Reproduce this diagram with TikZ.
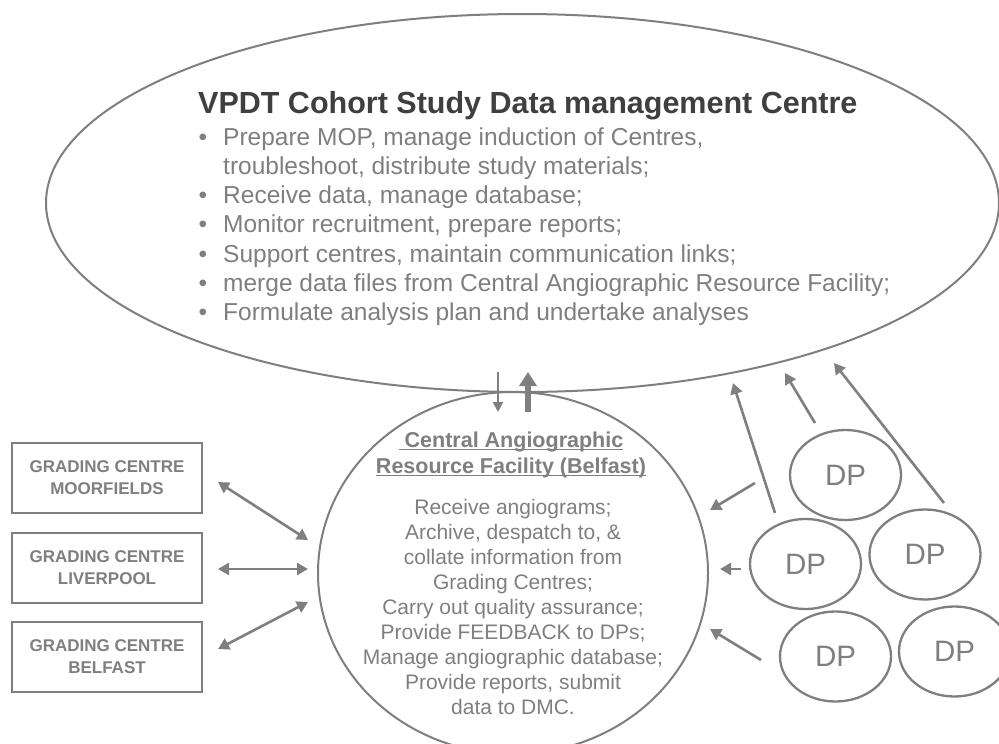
\documentclass[tikz,border=0pt]{standalone}
\usepackage{fontspec}
\setmainfont{Liberation Sans}
\usetikzlibrary{shapes.geometric,arrows.meta}
\definecolor{lg}{HTML}{7F7F7F}
\definecolor{tg}{HTML}{7F7F7F}
\definecolor{dg}{HTML}{3F3F3F}
\newcommand\myul[1]{\setbox0\hbox{#1}\rlap{\rule[-2.5pt]{\wd0}{1pt}}\box0}
\begin{document}
\begin{tikzpicture}[x=1pt,y=-1pt,
  ell/.style={draw=lg, line width=2pt, ellipse, inner sep=0pt, outer sep=0pt},
  gbox/.style={draw=lg, line width=2.2pt, minimum width=190pt, minimum height=70pt, inner sep=0pt, align=center, text=tg, font=\bfseries\fontsize{17}{22}\selectfont},
  dp/.style={ell, line width=2.3pt, minimum width=111pt, minimum height=90pt, text=tg, font=\fontsize{29.5}{30}\selectfont},
  arr/.style={draw=lg, line width=2.6pt, -{Triangle[length=11pt,width=12pt]}},
  darr/.style={draw=lg, line width=2.6pt, {Triangle[length=11pt,width=12pt]}-{Triangle[length=11pt,width=12pt]}},
  bl/.style={anchor=base west, text=tg, inner sep=0pt, font=\fontsize{24.5}{29}\selectfont},
  cl/.style={anchor=base, text=tg, inner sep=0pt, font=\fontsize{21}{25}\selectfont},
  ch/.style={anchor=base, text=tg, inner sep=0pt, font=\bfseries\fontsize{21.5}{26}\selectfont}]
\fill[white] (0,0) rectangle (999,744);
\useasboundingbox (0,0) rectangle (999,744);

% big ellipse
\node[ell, minimum width=953pt, minimum height=378pt] (dmc) at (522.5,203) {};
\node[anchor=base west, inner sep=0pt, text=dg, font=\bfseries\fontsize{30.5}{36}\selectfont] (title) at (198,113) {VPDT Cohort Study Data management Centre};
\node[bl] (b1) at (223,145) {\llap{\textbullet\hspace{16pt}}Prepare MOP, manage induction of Centres,};
\node[bl] (b2) at (223,174.3) {troubleshoot, distribute study materials;};
\node[bl] (b3) at (223,203.6) {\llap{\textbullet\hspace{16pt}}Receive data, manage database;};
\node[bl] (b4) at (223,232.9) {\llap{\textbullet\hspace{16pt}}Monitor recruitment, prepare reports;};
\node[bl] (b5) at (223,262.2) {\llap{\textbullet\hspace{16pt}}Support centres, maintain communication links;};
\node[bl] (b6) at (223,291.5) {\llap{\textbullet\hspace{16pt}}merge data files from Central Angiographic Resource Facility;};
\node[bl] (b7) at (223,320.8) {\llap{\textbullet\hspace{16pt}}Formulate analysis plan and undertake analyses};

% central circle
\node[ell, minimum width=390pt, minimum height=362pt] (caf) at (513,573) {};
\node[ch] (h1) at (511,447) {\myul{\ Central Angiographic}};
\node[ch] (h2) at (511,473) {\myul{Resource Facility (Belfast)}};
\foreach \t [count=\i] in {{Receive angiograms;},{Archive, despatch to, \&},{collate information from},{Grading Centres;},{Carry out quality assurance;},{Provide FEEDBACK to DPs;},{Manage angiographic database;},{Provide reports, submit},{data to DMC.}}
  \node[cl] (c\i) at (513,{514+25*(\i-1)}) {\t};

% arrows between ellipse and circle
\coordinate (d0) at (498,372); \coordinate (d1) at (498,412);
\coordinate (u0) at (528,412); \coordinate (u1) at (528,372);
\draw[draw=lg, line width=2.5pt, -{Triangle[length=10pt,width=10pt]}] (d0) -- (d1);
\draw[draw=lg, line width=6pt, -{Triangle[length=14pt,width=17pt]}] (u0) -- (u1);

% grading centres
\node[gbox] (g1) at (107,478) {GRADING CENTRE\\MOORFIELDS};
\node[gbox] (g2) at (107,568) {GRADING CENTRE\\LIVERPOOL};
\node[gbox] (g3) at (107,657) {GRADING CENTRE\\BELFAST};
\coordinate (l1a) at (218,482); \coordinate (l1b) at (308,540);
\coordinate (l2a) at (218,569); \coordinate (l2b) at (308,569);
\coordinate (l3a) at (218,649); \coordinate (l3b) at (308,602);
\draw[darr] (l1a) -- (l1b);
\draw[darr] (l2a) -- (l2b);
\draw[darr] (l3a) -- (l3b);

% DPs
\node[dp] (dp1) at (845.5,475) {DP};
\node[dp] (dp2) at (805.5,564) {DP};
\node[dp] (dp3) at (925,554.5) {DP};
\node[dp] (dp4) at (835.5,656.5) {DP};
\node[dp] (dp5) at (954.5,651.5) {DP};

\coordinate (pa0) at (775,513); \coordinate (pa1) at (733,383);
\coordinate (pb0) at (815,423); \coordinate (pb1) at (785,373);
\coordinate (pc0) at (944,503); \coordinate (pc1) at (834,363);
\coordinate (pd0) at (755,483); \coordinate (pd1) at (710,510);
\coordinate (pe0) at (741,569); \coordinate (pe1) at (720,569);
\coordinate (pf0) at (761,660); \coordinate (pf1) at (710,629);
\draw[arr] (pa0) -- (pa1);
\draw[arr] (pb0) -- (pb1);
\draw[arr] (pc0) -- (pc1);
\draw[arr] (pd0) -- (pd1);
\draw[arr] (pe0) -- (pe1);
\draw[arr] (pf0) -- (pf1);
\end{tikzpicture}
\end{document}
